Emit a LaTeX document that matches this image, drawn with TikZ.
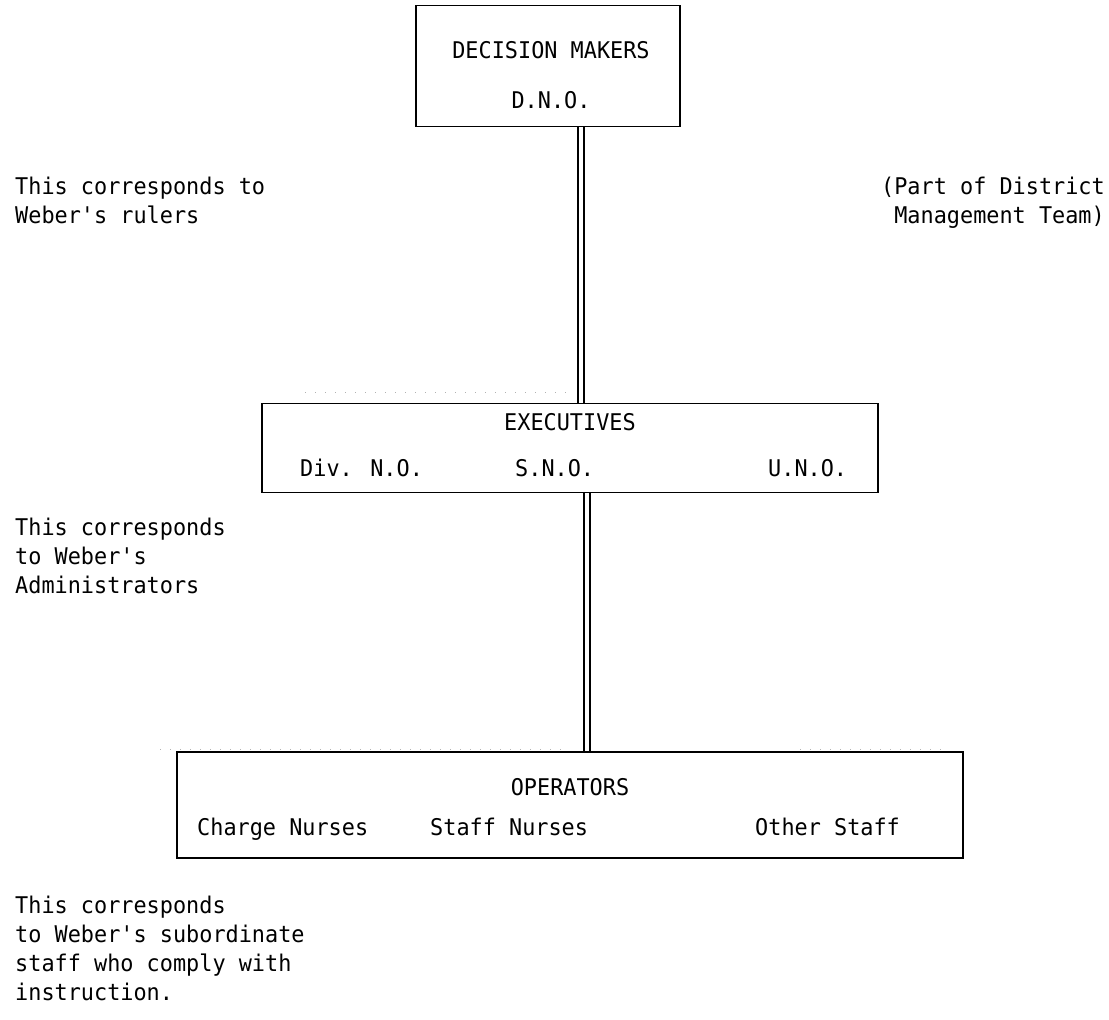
\documentclass[tikz,border=0pt]{standalone}
\usepackage{fontspec}
\newfontfamily\typew[FakeStretch=0.95]{DejaVu Sans Mono}
\begin{document}
\begin{tikzpicture}[x=1pt,y=-1pt,
  box/.style={draw, line width=1.8pt, minimum width=#1, inner sep=0pt},
  txt/.style={font=\typew\fontsize{23}{28}\selectfont, inner sep=0pt, anchor=base west},
  ctxt/.style={font=\typew\fontsize{23}{28}\selectfont, inner sep=0pt, anchor=base},
  note/.style={font=\typew\fontsize{23}{29}\selectfont, inner sep=0pt, align=left, anchor=north west},
  rnote/.style={font=\typew\fontsize{23}{29}\selectfont, inner sep=0pt, align=right, anchor=north east},
  dbl/.style={double, double distance=4pt, line width=2pt},
  scan/.style={gray!60, line width=1pt, dash pattern=on 1pt off 9pt}]
\useasboundingbox (0,0) rectangle (1109,1020);
% boxes
\node[box=264pt, minimum height=121pt] (dm) at (548,66) {};
\node[box=616pt, minimum height=89pt] (ex) at (570,448) {};
\node[box=786pt, minimum height=106pt] (op) at (570,805) {};
% box texts
\node[ctxt] (dmt) at (551,58) {DECISION MAKERS};
\node[ctxt] (dno) at (551,108) {D.N.O.};
\node[ctxt] (ext) at (570,430) {EXECUTIVES};
\node[txt] (div) at (300,476) {Div. N.O.};
\node[txt] (sno) at (515,476) {S.N.O.};
\node[txt] (uno) at (768,476) {U.N.O.};
\node[ctxt] (opt) at (570,795) {OPERATORS};
\node[txt] (cn) at (197,835) {Charge Nurses};
\node[txt] (sn) at (430,835) {Staff Nurses};
\node[txt] (os) at (755,835) {Other Staff};
% connectors
\draw[dbl] ([xshift=33pt]dm.south) -- ([xshift=11pt]ex.north);
\draw[dbl] ([xshift=17pt]ex.south) -- ([xshift=17pt]op.north);
% faint scan dots
\coordinate (s1a) at (305,392); \coordinate (s1b) at (568,392);
\coordinate (s2a) at (160,749); \coordinate (s2b) at (565,749);
\coordinate (s3a) at (800,749); \coordinate (s3b) at (950,749);
\draw[scan] (s1a) -- (s1b);
\draw[scan] (s2a) -- (s2b);
\draw[scan] (s3a) -- (s3b);
% side notes
\node[note] (n1) at (15,177) {This corresponds to\\Weber's rulers};
\node[rnote] (n2) at (1105,177) {(Part of District\\Management Team)};
\node[note] (n3) at (15,518) {This corresponds\\to Weber's\\Administrators};
\node[note] (n4) at (15,896) {This corresponds\\to Weber's subordinate\\staff who comply with\\instruction.};
\end{tikzpicture}
\end{document}
